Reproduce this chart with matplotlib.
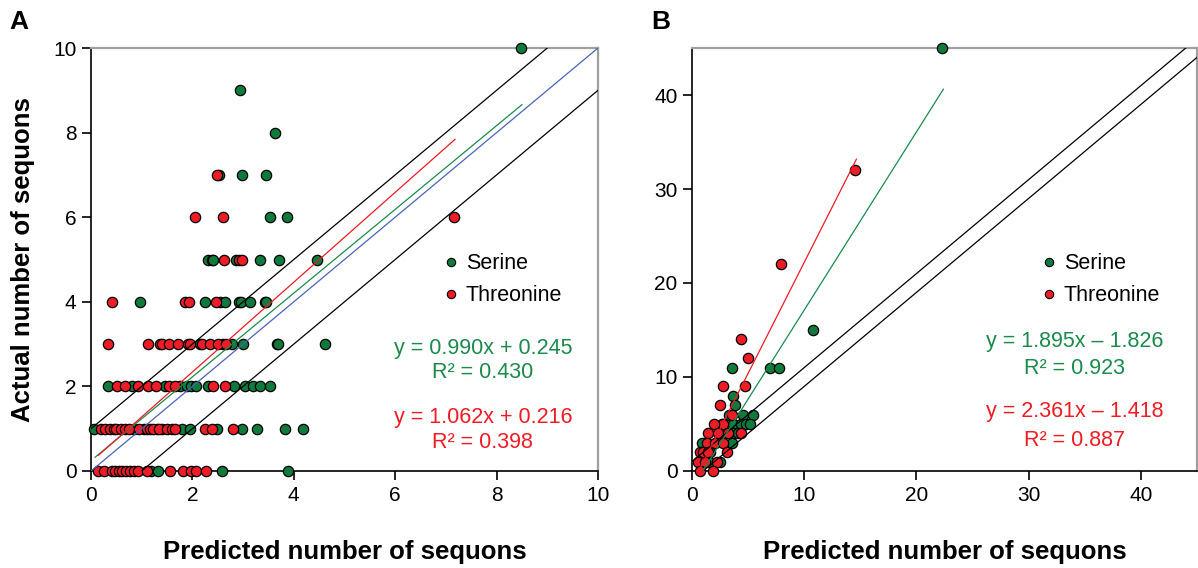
import matplotlib
matplotlib.use("Agg")
import matplotlib.pyplot as plt
from matplotlib.lines import Line2D

plt.rcParams["font.family"] = ["Liberation Sans", "DejaVu Sans"]

GREEN = "#0f7a3c"
RED = "#ee1c25"
FIT_GREEN = "#1b8a4c"
BLUE = "#4a64b4"

# ---- panel A data (predicted, actual) ----
a_ser_x = [8.48, 2.94, 3.63, 2.53, 2.97, 3.46, 3.53, 3.86,
           2.30, 2.38, 2.40, 2.86, 3.33, 3.71, 4.45,
           0.97, 2.24, 2.55, 2.64, 2.91, 2.95, 3.14, 3.43, 3.46,
           2.15, 2.61, 2.79, 2.99, 3.66, 3.68, 4.62,
           0.34, 0.80, 1.46, 1.76, 1.89, 1.98, 2.08, 2.31, 2.83, 3.04, 3.19, 3.33, 3.53,
           0.06, 0.85, 1.05, 1.30, 1.40, 1.79, 1.95, 2.48, 2.97, 3.27, 3.83, 4.18,
           1.19, 1.32, 2.58, 3.89]
a_ser_y = [10, 9, 8, 7, 7, 7, 6, 6,
           5, 5, 5, 5, 5, 5, 5,
           4, 4, 4, 4, 4, 4, 4, 4, 4,
           3, 3, 3, 3, 3, 3, 3,
           2, 2, 2, 2, 2, 2, 2, 2, 2, 2, 2, 2, 2,
           1, 1, 1, 1, 1, 1, 1, 1, 1, 1, 1, 1,
           0, 0, 0, 0]
a_thr_x = [2.49, 2.05, 2.61, 7.16, 2.63, 2.92, 2.97,
           0.41, 1.85, 1.94, 2.47,
           0.34, 1.13, 1.36, 1.40, 1.53, 1.72, 1.92, 1.95, 2.18, 2.35, 2.51, 2.67,
           0.52, 0.67, 0.93, 1.13, 1.29, 1.53, 1.66, 2.41, 2.64,
           0.19, 0.28, 0.37, 0.45, 0.50, 0.60, 0.68, 0.75, 0.95, 1.10, 1.16, 1.22,
           1.35, 1.49, 1.60, 1.66, 2.25, 2.39, 2.81,
           0.14, 0.25, 0.41, 0.47, 0.55, 0.61, 0.70, 0.77, 0.85, 0.93, 1.10,
           1.56, 1.82, 1.98, 2.08, 2.27]
a_thr_y = [7, 6, 6, 6, 5, 5, 5,
           4, 4, 4, 4,
           3, 3, 3, 3, 3, 3, 3, 3, 3, 3, 3, 3,
           2, 2, 2, 2, 2, 2, 2, 2, 2,
           1, 1, 1, 1, 1, 1, 1, 1, 1, 1, 1, 1,
           1, 1, 1, 1, 1, 1, 1,
           0, 0, 0, 0, 0, 0, 0, 0, 0, 0, 0,
           0, 0, 0, 0, 0]

# ---- panel B data ----
b_ser_x = [22.3, 10.8, 6.93, 7.75, 3.52, 3.67, 3.82, 4.56, 5.45, 3.30,
           3.67, 4.41, 4.85, 5.15, 2.79, 3.67, 4.10, 3.20, 0.86, 3.52, 1.60, 1.50, 2.50]
b_ser_y = [45, 15, 11, 11, 11, 8, 7, 6, 6, 6,
           5, 5, 5, 5, 4, 4, 4, 4, 3, 3, 2, 1, 1]
b_thr_x = [14.56, 7.9, 4.35, 5.0, 2.72, 4.7, 2.49, 3.52, 2.64, 2.79, 2.0,
           1.45, 2.34, 3.23, 4.41, 1.30, 2.04, 2.79, 0.71, 1.00, 1.45, 3.08,
           0.56, 1.15, 2.20, 0.71, 1.89]
b_thr_y = [32, 22, 14, 12, 9, 9, 7, 6, 5, 5, 5,
           4, 4, 4, 4, 3, 3, 3, 2, 2, 2, 2,
           1, 1, 1, 0, 0]

# regression fits: slope, intercept, x start, x end
a_ser_fit = (0.990, 0.245, 0.08, 8.5)
a_thr_fit = (1.062, 0.216, 0.15, 7.18)
b_ser_fit = (1.895, -1.826, 0.8, 22.4)
b_thr_fit = (2.361, -1.418, 0.6, 14.65)

a_ser_eq = ["y = 0.990x + 0.245", "R\u00b2 = 0.430"]
a_thr_eq = ["y = 1.062x + 0.216", "R\u00b2 = 0.398"]
b_ser_eq = ["y = 1.895x \u2013 1.826", "R\u00b2 = 0.923"]
b_thr_eq = ["y = 2.361x \u2013 1.418", "R\u00b2 = 0.887"]

fig = plt.figure(figsize=(11.98, 5.68), dpi=100)
axA = fig.add_axes([91 / 1198, 97 / 568, 507 / 1198, 423 / 568])
axB = fig.add_axes([692 / 1198, 97 / 568, 505 / 1198, 423 / 568])


def fit_line(ax, fit, color):
    m, b, x0, x1 = fit
    ax.plot([x0, x1], [m * x0 + b, m * x1 + b], color=color, lw=0.9, zorder=4)


def style(ax, lim, ticks):
    ax.set_xlim(0, lim)
    ax.set_ylim(0, lim)
    ax.set_xticks(ticks)
    ax.set_yticks(ticks)
    for s in ["top", "right"]:
        ax.spines[s].set_color("#a0a0a0")
        ax.spines[s].set_linewidth(1.6)
    for s in ["left", "bottom"]:
        ax.spines[s].set_linewidth(1.2)
    ax.tick_params(direction="out", length=6.5, width=1.2, labelsize=15, pad=4)
    ax.set_xlabel("Predicted number of sequons", fontsize=18.5, fontweight="bold")
    ax.xaxis.set_label_coords(0.5, -0.162)


def panel(ax, lim, sx, sy, tx, ty, sfit, tfit, seq, teq, diag_lim, legend_xy, eq_x, eq_ys):
    ax.scatter(sx, sy, s=55, c=GREEN, edgecolors="black", linewidths=0.9, zorder=3, clip_on=False)
    ax.scatter(tx, ty, s=55, c=RED, edgecolors="black", linewidths=0.9, zorder=3, clip_on=False)
    ax.plot([0, diag_lim - 1], [1, diag_lim], color="black", lw=0.9, zorder=4)
    ax.plot([1, lim], [0, lim - 1], color="black", lw=0.9, zorder=4)
    fit_line(ax, sfit, FIT_GREEN)
    fit_line(ax, tfit, RED)
    handles = [Line2D([], [], ls="", marker="o", ms=6, mfc=GREEN, mec="black", mew=0.8),
               Line2D([], [], ls="", marker="o", ms=6, mfc=RED, mec="black", mew=0.8)]
    ax.legend(handles, ["Serine", "Threonine"], frameon=False, fontsize=15.5,
              loc="upper left", bbox_to_anchor=legend_xy, handletextpad=0.1,
              labelspacing=0.5, handlelength=1.2, borderaxespad=0)
    for txt, yy, col in [(seq[0], eq_ys[0], FIT_GREEN), (seq[1], eq_ys[1], FIT_GREEN),
                         (teq[0], eq_ys[2], RED), (teq[1], eq_ys[3], RED)]:
        ax.text(eq_x, yy, txt, color=col, fontsize=15.5, ha="center", va="center",
                transform=ax.transAxes)


style(axA, 10, [0, 2, 4, 6, 8, 10])
axA.plot([0, 10], [0, 10], color=BLUE, lw=0.9, zorder=4)
panel(axA, 10, a_ser_x, a_ser_y, a_thr_x, a_thr_y, a_ser_fit, a_thr_fit,
      a_ser_eq, a_thr_eq, 10, (0.667, 0.535), 0.773,
      [(471 - 348) / 423, (471 - 373) / 423, (471 - 418) / 423, (471 - 443) / 423])
axA.set_ylabel("Actual number of sequons", fontsize=18.5, fontweight="bold")
axA.yaxis.set_label_coords(-0.11, 0.5)

style(axB, 45, [0, 10, 20, 30, 40])
panel(axB, 45, b_ser_x, b_ser_y, b_thr_x, b_thr_y, b_ser_fit, b_thr_fit,
      b_ser_eq, b_thr_eq, 45, (0.664, 0.535), 0.758,
      [(471 - 342) / 423, (471 - 368) / 423, (471 - 412) / 423, (471 - 440) / 423])

fig.text(19 / 1198, 1 - 22 / 568, "A", fontsize=19, fontweight="bold", ha="center", va="center")
fig.text(661 / 1198, 1 - 22 / 568, "B", fontsize=19, fontweight="bold", ha="center", va="center")

fig.savefig("out.png", dpi=100)
